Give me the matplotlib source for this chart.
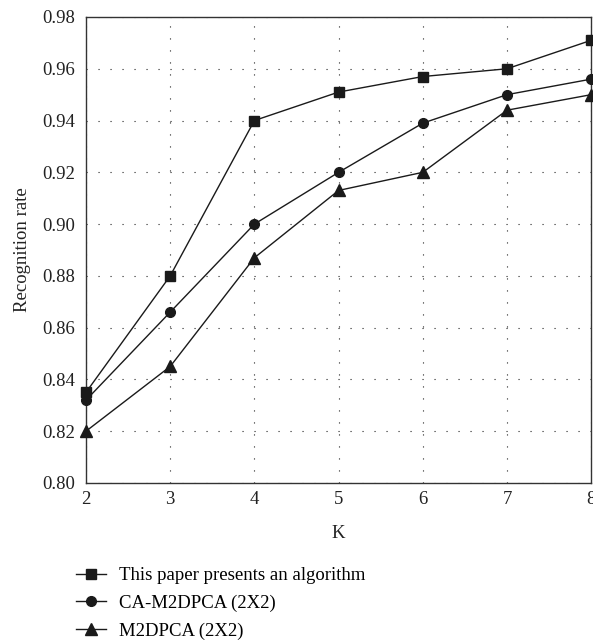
import matplotlib
matplotlib.use("Agg")
import matplotlib.pyplot as plt

plt.rcParams['font.family'] = ['Liberation Serif', 'DejaVu Serif']

K = [2, 3, 4, 5, 6, 7, 8]
proposed = [0.835, 0.880, 0.940, 0.951, 0.957, 0.960, 0.971]
ca_m2dpca = [0.832, 0.866, 0.900, 0.920, 0.939, 0.950, 0.956]
m2dpca = [0.820, 0.845, 0.887, 0.913, 0.920, 0.944, 0.950]
labels = ["This paper presents an algorithm", "CA-M2DPCA (2X2)", "M2DPCA (2X2)"]
yticks = [0.80, 0.82, 0.84, 0.86, 0.88, 0.90, 0.92, 0.94, 0.96, 0.98]

fig = plt.figure(figsize=(5.93, 6.41), dpi=100)
ax = fig.add_axes([0.145, 0.2465, 0.852, 0.727])

col = '#1a1a1a'
series = [(proposed, 's', 7.5), (ca_m2dpca, 'o', 7), (m2dpca, '^', 8)]
handles = []
for (vals, mk, ms), lab in zip(series, labels):
    h, = ax.plot(K, vals, color=col, lw=1.0, marker=mk, markersize=ms,
                 markerfacecolor=col, markeredgecolor=col, label=lab, clip_on=False, zorder=3)
    handles.append(h)

ax.set_xlim(2, 8)
ax.set_ylim(0.80, 0.98)
ax.set_xticks(K)
ax.set_yticks(yticks)
ax.set_yticklabels([f"{v:.2f}" for v in yticks])
ax.grid(True, linestyle=(0, (1, 9.8)), color='#222222', linewidth=0.8)
ax.tick_params(axis='x', length=0, labelsize=13.5, colors='#222222', pad=6)
ax.tick_params(axis='y', length=0, labelsize=13.5, colors='#222222', pad=8)
for s in ax.spines.values():
    s.set_color('#333333')
    s.set_linewidth(1.0)
ax.set_xlabel("K", fontsize=13.5, labelpad=12, color='#222222')
ax.set_ylabel("Recognition rate", fontsize=13.5, labelpad=8, color='#222222')

fig.legend(handles=handles, labels=labels, loc='upper left', bbox_to_anchor=(0.128, 0.115),
           frameon=False, fontsize=13.5, handlelength=1.6, handletextpad=0.7,
           labelspacing=0.55, borderaxespad=0, borderpad=0)

fig.savefig("out.png", dpi=100)
